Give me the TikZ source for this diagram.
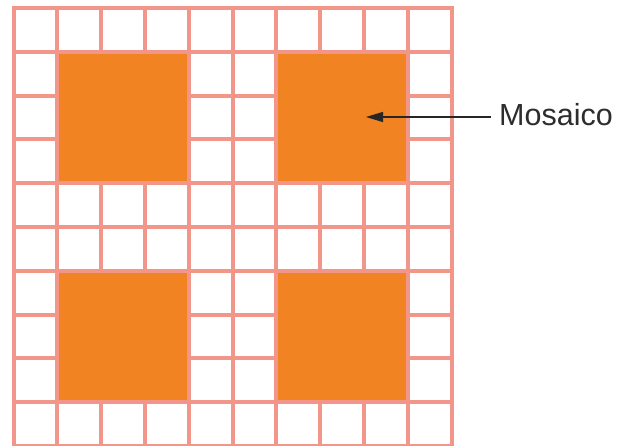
\documentclass[tikz,border=0pt]{standalone}
\usepackage{fontspec}
\setmainfont{Liberation Sans}
\usetikzlibrary{arrows.meta,positioning}
\definecolor{gridline}{RGB}{241,150,136}
\definecolor{tileorange}{RGB}{242,131,34}
\definecolor{labeltext}{RGB}{45,45,45}

\begin{document}
\begin{tikzpicture}[
  x=1pt, y=-1pt,
  cellline/.style={draw=gridline, line width=4pt, line cap=rect},
  tile/.style={draw=gridline, line width=4pt, fill=tileorange},
  lbl/.style={font=\fontsize{30.5}{34}\selectfont, text=labeltext, inner sep=0pt},
  arr/.style={-{Triangle[length=17pt,width=10pt]}, line width=1.3pt, draw=black!85}
]
  \useasboundingbox (0,0) rectangle (633,446);
  \fill[white] (0,0) rectangle (633,446);

  % 10 x 10 grid
  \foreach \i in {0,...,10} {
    \draw[cellline] ({13.5+43.8*\i},8) -- ({13.5+43.8*\i},446);
    \draw[cellline] (13.5,{8+43.8*\i}) -- (451.5,{8+43.8*\i});
  }

  % mosaic tiles (3 x 3 cells each)
  \foreach \c/\r in {1/1, 6/1, 1/6, 6/6} {
    \draw[tile] ({13.5+43.8*\c},{8+43.8*\r}) rectangle ({13.5+43.8*(\c+3)},{8+43.8*(\r+3)});
  }

  \coordinate (tip) at (366,117);
  \node[lbl, anchor=base west] (mosaico) at (499,125.5) {Mosaico};
  \draw[arr, shorten <=8pt] (mosaico.west |- tip) -- (tip);
\end{tikzpicture}
\end{document}
